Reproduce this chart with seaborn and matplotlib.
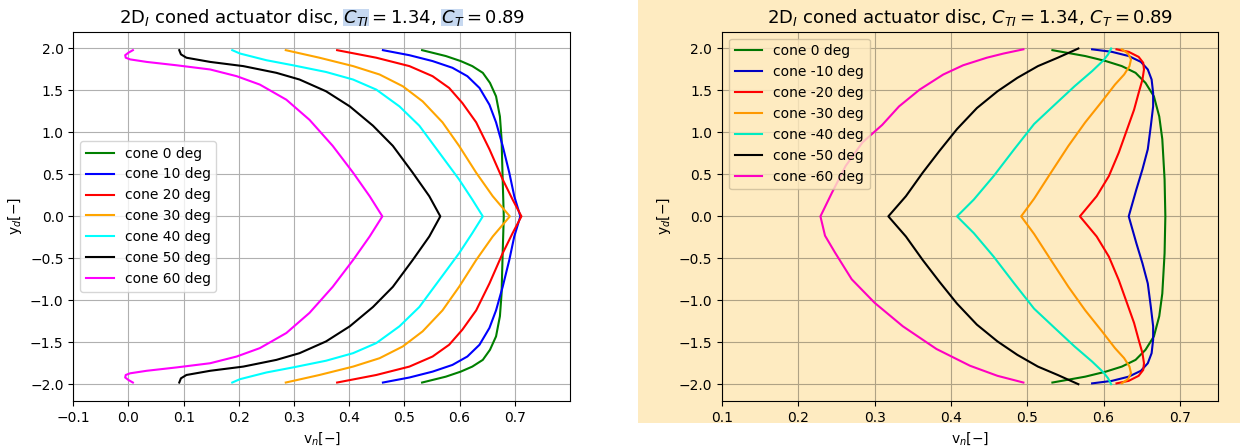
import numpy as np
import pandas as pd
import matplotlib
matplotlib.use("Agg")
import matplotlib.pyplot as plt
from matplotlib.patches import Rectangle
from matplotlib.colors import to_rgb
import seaborn as sns

# ---------------- data: left panel (positive cone angles) ----------------
left_labels = ["cone 0 deg", "cone 10 deg", "cone 20 deg", "cone 30 deg",
               "cone 40 deg", "cone 50 deg", "cone 60 deg"]
left_colors = ["green", "blue", "red", "orange", "cyan", "black", "magenta"]

l0_y = [1.98, 1.91, 1.85, 1.79, 1.71, 1.59, 1.43, 1.19, 0.92, 0.44, 0.0,
        -0.44, -0.92, -1.19, -1.43, -1.59, -1.71, -1.79, -1.85, -1.91, -1.98]
l0_v = [0.532, 0.575, 0.602, 0.623, 0.642, 0.655, 0.666, 0.673, 0.676, 0.678, 0.680,
        0.678, 0.676, 0.673, 0.666, 0.655, 0.642, 0.623, 0.602, 0.575, 0.532]

l10_y = [1.98, 1.92, 1.85, 1.77, 1.67, 1.53, 1.33, 1.12, 0.84, 0.52, 0.24, 0.0,
         -0.24, -0.52, -0.84, -1.12, -1.33, -1.53, -1.67, -1.77, -1.85, -1.92, -1.98]
l10_v = [0.461, 0.509, 0.551, 0.587, 0.614, 0.636, 0.654, 0.666, 0.678, 0.690, 0.699, 0.710,
         0.699, 0.690, 0.678, 0.666, 0.654, 0.636, 0.614, 0.587, 0.551, 0.509, 0.461]

l20_y = [1.98, 1.89, 1.79, 1.67, 1.53, 1.35, 1.12, 0.80, 0.44, 0.20, 0.0,
         -0.20, -0.44, -0.80, -1.12, -1.35, -1.53, -1.67, -1.79, -1.89, -1.98]
l20_v = [0.378, 0.449, 0.509, 0.551, 0.581, 0.605, 0.630, 0.654, 0.678, 0.696, 0.712,
         0.696, 0.678, 0.654, 0.630, 0.605, 0.581, 0.551, 0.509, 0.449, 0.378]

l30_y = [1.98, 1.89, 1.79, 1.69, 1.55, 1.37, 1.12, 0.84, 0.52, 0.24, 0.0,
         -0.24, -0.52, -0.84, -1.12, -1.37, -1.55, -1.69, -1.79, -1.89, -1.98]
l30_v = [0.285, 0.346, 0.407, 0.455, 0.497, 0.533, 0.569, 0.599, 0.630, 0.660, 0.691,
         0.660, 0.630, 0.599, 0.569, 0.533, 0.497, 0.455, 0.407, 0.346, 0.285]

l40_y = [1.98, 1.94, 1.86, 1.80, 1.72, 1.63, 1.51, 1.31, 1.08, 0.76, 0.44, 0.20, 0.0,
         -0.20, -0.44, -0.76, -1.08, -1.31, -1.51, -1.63, -1.72, -1.80, -1.86, -1.94, -1.98]
l40_v = [0.188, 0.202, 0.250, 0.298, 0.358, 0.407, 0.449, 0.491, 0.527, 0.563, 0.599, 0.623, 0.642,
         0.623, 0.599, 0.563, 0.527, 0.491, 0.449, 0.407, 0.358, 0.298, 0.250, 0.202, 0.188]

l50_y = [1.98, 1.93, 1.89, 1.84, 1.79, 1.71, 1.63, 1.49, 1.31, 1.08, 0.84, 0.52, 0.24, 0.0,
         -0.24, -0.52, -0.84, -1.08, -1.31, -1.49, -1.63, -1.71, -1.79, -1.84, -1.89, -1.93, -1.98]
l50_v = [0.092, 0.095, 0.105, 0.148, 0.208, 0.268, 0.310, 0.358, 0.401, 0.443, 0.479, 0.515, 0.545, 0.565,
         0.545, 0.515, 0.479, 0.443, 0.401, 0.358, 0.310, 0.268, 0.208, 0.148, 0.105, 0.095, 0.092]

l60_y = [1.98, 1.95, 1.92, 1.89, 1.87, 1.84, 1.80, 1.75, 1.67, 1.57, 1.39, 1.15, 0.84, 0.52, 0.24, 0.0,
         -0.24, -0.52, -0.84, -1.15, -1.39, -1.57, -1.67, -1.75, -1.80, -1.84, -1.87, -1.89, -1.92,
         -1.95, -1.98]
l60_v = [0.008, 0.000, -0.006, -0.005, 0.003, 0.033, 0.087, 0.148, 0.196, 0.238, 0.286, 0.328, 0.370,
         0.407, 0.437, 0.460,
         0.437, 0.407, 0.370, 0.328, 0.286, 0.238, 0.196, 0.148, 0.087, 0.033, 0.003, -0.005, -0.006,
         0.000, 0.008]

# ---------------- data: right panel (negative cone angles) ----------------
right_labels = ["cone 0 deg", "cone -10 deg", "cone -20 deg", "cone -30 deg",
                "cone -40 deg", "cone -50 deg", "cone -60 deg"]

r0_y = [1.98, 1.91, 1.85, 1.79, 1.71, 1.59, 1.43, 1.19, 0.92, 0.44, 0.0,
        -0.44, -0.92, -1.19, -1.43, -1.59, -1.71, -1.79, -1.85, -1.91, -1.98]
r0_v = [0.533, 0.576, 0.603, 0.624, 0.642, 0.655, 0.666, 0.673, 0.677, 0.680, 0.681,
        0.680, 0.677, 0.673, 0.666, 0.655, 0.642, 0.624, 0.603, 0.576, 0.533]

r10_y = [1.99, 1.96, 1.91, 1.84, 1.75, 1.63, 1.47, 1.31, 1.08, 0.80, 0.56, 0.32, 0.0,
         -0.32, -0.56, -0.80, -1.08, -1.31, -1.47, -1.63, -1.75, -1.84, -1.91, -1.96, -1.99]
r10_v = [0.585, 0.611, 0.633, 0.649, 0.658, 0.663, 0.665, 0.665, 0.662, 0.658, 0.651, 0.643, 0.633,
         0.643, 0.651, 0.658, 0.662, 0.665, 0.665, 0.663, 0.658, 0.649, 0.633, 0.611, 0.585]

r20_y = [1.99, 1.96, 1.90, 1.83, 1.75, 1.63, 1.47, 1.27, 1.04, 0.76, 0.48, 0.24, 0.0,
         -0.24, -0.48, -0.76, -1.04, -1.27, -1.47, -1.63, -1.75, -1.83, -1.90, -1.96, -1.99]
r20_v = [0.617, 0.633, 0.646, 0.652, 0.653, 0.651, 0.646, 0.640, 0.631, 0.620, 0.607, 0.591, 0.569,
         0.591, 0.607, 0.620, 0.631, 0.640, 0.646, 0.651, 0.653, 0.652, 0.646, 0.633, 0.617]

r30_y = [1.99, 1.94, 1.87, 1.79, 1.69, 1.57, 1.37, 1.12, 0.84, 0.52, 0.21, 0.0,
         -0.21, -0.52, -0.84, -1.12, -1.37, -1.57, -1.69, -1.79, -1.87, -1.94, -1.99]
r30_v = [0.624, 0.632, 0.636, 0.634, 0.627, 0.615, 0.598, 0.576, 0.554, 0.531, 0.509, 0.492,
         0.509, 0.531, 0.554, 0.576, 0.598, 0.615, 0.627, 0.634, 0.636, 0.632, 0.624]

r40_y = [2.0, 1.93, 1.86, 1.73, 1.55, 1.33, 1.10, 0.80, 0.48, 0.20, 0.0,
         -0.20, -0.48, -0.80, -1.10, -1.33, -1.55, -1.73, -1.86, -1.93, -2.0]
r40_v = [0.610, 0.606, 0.600, 0.585, 0.562, 0.536, 0.509, 0.483, 0.456, 0.430, 0.408,
         0.430, 0.456, 0.483, 0.509, 0.536, 0.562, 0.585, 0.600, 0.606, 0.610]

r50_y = [2.0, 1.89, 1.79, 1.65, 1.49, 1.29, 1.04, 0.78, 0.52, 0.24, 0.0,
         -0.24, -0.52, -0.78, -1.04, -1.29, -1.49, -1.65, -1.79, -1.89, -2.0]
r50_v = [0.567, 0.540, 0.514, 0.487, 0.461, 0.434, 0.408, 0.385, 0.363, 0.341, 0.318,
         0.341, 0.363, 0.385, 0.408, 0.434, 0.461, 0.487, 0.514, 0.540, 0.567]

r60_y = [1.99, 1.94, 1.89, 1.80, 1.69, 1.51, 1.31, 1.09, 0.88, 0.60, 0.28, 0.0,
         -0.23, -0.43, -0.75, -1.03, -1.31, -1.58, -1.78, -1.90, -1.98]
r60_v = [0.495, 0.469, 0.447, 0.416, 0.390, 0.359, 0.332, 0.310, 0.284, 0.262, 0.244, 0.229,
         0.235, 0.248, 0.270, 0.300, 0.337, 0.381, 0.425, 0.461, 0.495]

left_series = [(l0_v, l0_y), (l10_v, l10_y), (l20_v, l20_y), (l30_v, l30_y),
               (l40_v, l40_y), (l50_v, l50_y), (l60_v, l60_y)]
right_series = [(r0_v, r0_y), (r10_v, r10_y), (r20_v, r20_y), (r30_v, r30_y),
                (r40_v, r40_y), (r50_v, r50_y), (r60_v, r60_y)]

TITLE = r"2D$_I$ coned actuator disc, $C_{TI} = 1.34$, $C_T = 0.89$"
XLABEL = r"v$_n$[$-$]"
YLABEL = r"y$_d$[$-$]"

# warm paper tone of the right-hand panel
PANEL_TONE = np.array([254, 235, 193]) / 255.0


def toned(color):
    return tuple(np.array(to_rgb(color)) * PANEL_TONE)


fig = plt.figure(figsize=(12.4, 4.48), dpi=100)

# background of the right-hand panel
fig.add_artist(Rectangle((638 / 1240, 1 - 423 / 448), 1 - 638 / 1240, 423 / 448,
                         transform=fig.transFigure, facecolor=PANEL_TONE,
                         edgecolor="none", zorder=-2))
# highlight behind the coefficient symbols of the left title
for x0, x1 in [(343, 369), (441, 463)]:
    fig.add_artist(Rectangle((x0 / 1240, 1 - 26 / 448), (x1 - x0) / 1240, 17 / 448,
                             transform=fig.transFigure, facecolor="#c6d8f0",
                             edgecolor="none", zorder=-1))

ax1 = fig.add_axes([73.3 / 1240, 47 / 448, 496.7 / 1240, 369.3 / 448])
ax2 = fig.add_axes([722 / 1240, 47 / 448, 496 / 1240, 369.3 / 448])


def draw_panel(ax, series, labels, colors, grid_color):
    for (v, y), lab, col in zip(series, labels, colors):
        df = pd.DataFrame({"v": v, "y": y})
        sns.lineplot(data=df, x="v", y="y", sort=False, estimator=None,
                     color=col, label=lab, linewidth=1.5, ax=ax)
    ax.grid(True, color=grid_color, linewidth=0.8)
    ax.set_axisbelow(True)
    ax.set_title(TITLE, fontsize=13)
    ax.set_xlabel(XLABEL, fontsize=10)
    ax.set_ylabel(YLABEL, fontsize=10)
    ax.set_ylim(-2.2, 2.2)
    ax.set_yticks(np.arange(-2.0, 2.01, 0.5))


draw_panel(ax1, left_series, left_labels, left_colors, "#b0b0b0")
ax1.set_xlim(-0.1, 0.8)
ax1.set_xticks(np.arange(-0.1, 0.71, 0.1))
ax1.legend(loc="center left", fontsize=10)

draw_panel(ax2, right_series, right_labels, [toned(c) for c in left_colors],
           toned("#b0b0b0"))
ax2.set_facecolor(PANEL_TONE)
ax2.set_xlim(0.1, 0.75)
ax2.set_xticks(np.arange(0.1, 0.71, 0.1))
leg = ax2.legend(loc="upper left", fontsize=10)
leg.get_frame().set_facecolor(PANEL_TONE)
leg.get_frame().set_edgecolor(toned("#cccccc"))

fig.savefig("out.png", dpi=100)
